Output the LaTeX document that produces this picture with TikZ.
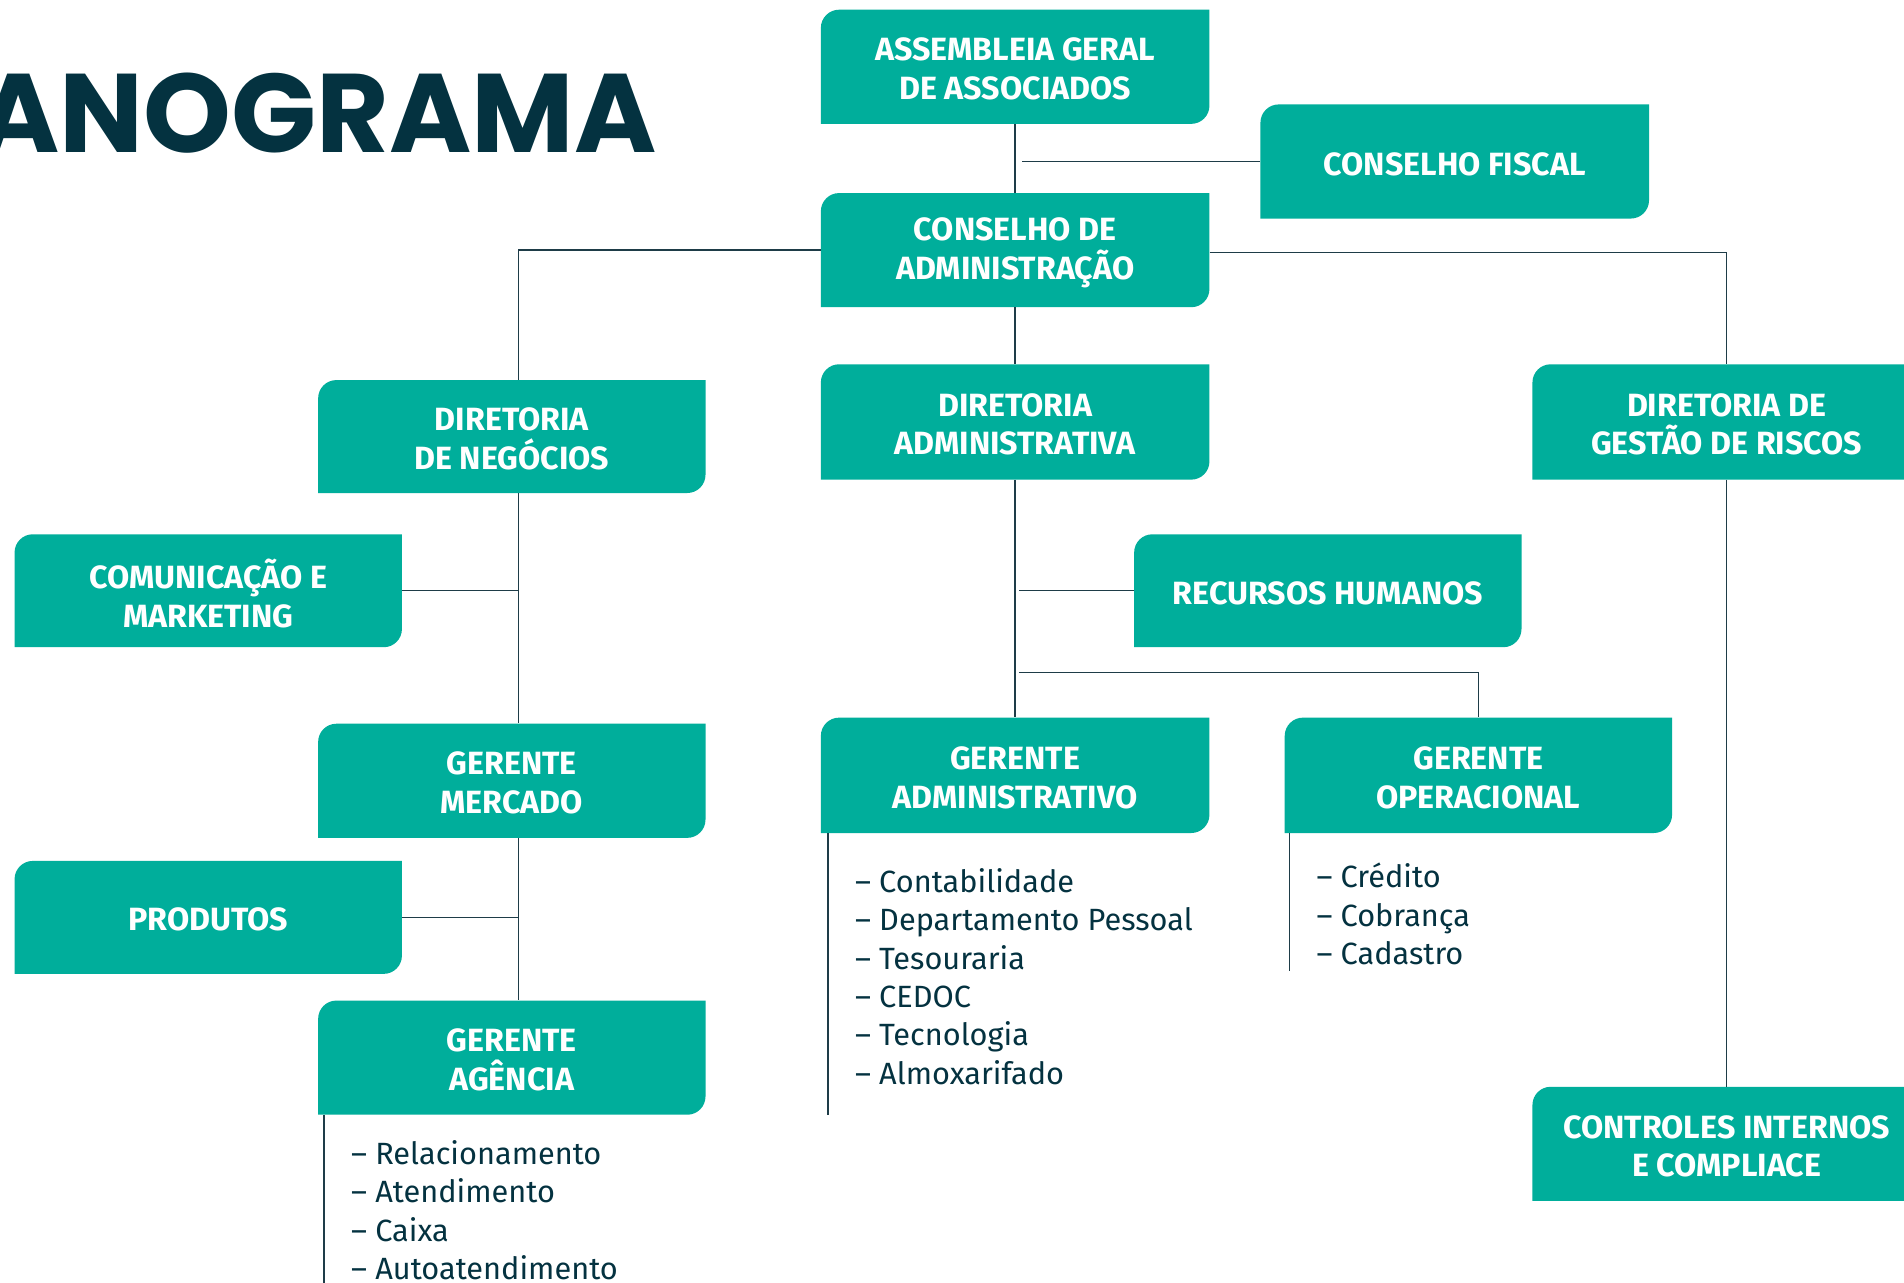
\documentclass[tikz,border=0pt]{standalone}
\usepackage{fontspec}
\setmainfont{Fira Sans}
\newfontfamily\titlefont{Poppins}
\usetikzlibrary{calc}
\definecolor{orgteal}{RGB}{0,174,155}
\definecolor{orgnavy}{RGB}{4,50,64}
\definecolor{orgline}{RGB}{30,60,72}
% \obox{name}{x1}{y1}{x2}{y2}{text}  (y measured downward)
\newcommand\obox[6]{%
  \fill[orgteal] (#2,-#5) -- (#2,{-#3-15}) arc[start angle=180,end angle=90,radius=15]
    -- (#4,-#3) -- (#4,{-#5+15}) arc[start angle=0,end angle=-90,radius=15] -- cycle;
  \node[boxshape, minimum width={#4-#2}, minimum height={#5-#3}] (#1) at ({(#2+#4)/2},{-(#3+#5)/2}) {};
  \node[boxtext] (#1-t) at ([yshift=-2]#1.center) {#6};}
\begin{document}
\begin{tikzpicture}[x=1pt,y=1pt,
  conn/.style={draw=orgline, line width=1.2pt},
  boxshape/.style={inner sep=0pt},
  boxtext/.style={text=white, font=\fontsize{26.5}{32}\selectfont\bfseries, align=center, inner sep=0pt},
  listtext/.style={text=orgnavy, font=\fontsize{25.3}{31.6}\selectfont, align=left, inner sep=0pt}]
\useasboundingbox[fill=white] (0,0) rectangle (1568,-1056);

\node[font=\titlefont\bfseries\fontsize{92}{92}\selectfont, text=orgnavy, anchor=base east, inner sep=0pt] (title) at (541,-126) {ANOGRAMA};

\obox{asm}{676}{8}{996}{102}{ASSEMBLEIA GERAL\\DE ASSOCIADOS}
\obox{cfis}{1038}{86}{1358}{180}{CONSELHO FISCAL}
\obox{cadm}{676}{159}{996}{253}{CONSELHO DE\\ADMINISTRAÇÃO}
\obox{dneg}{262}{313}{581}{406}{DIRETORIA\\DE NEGÓCIOS}
\obox{dadm}{676}{300}{996}{395}{DIRETORIA\\ADMINISTRATIVA}
\obox{drisk}{1262}{300}{1582}{395}{DIRETORIA DE\\GESTÃO DE RISCOS}
\obox{cmkt}{12}{440}{331}{533}{COMUNICAÇÃO E\\MARKETING}
\obox{rh}{934}{440}{1253}{533}{RECURSOS HUMANOS}
\obox{gmer}{262}{596}{581}{690}{GERENTE\\MERCADO}
\obox{gadm}{676}{591}{996}{686}{GERENTE\\ADMINISTRATIVO}
\obox{gop}{1058}{591}{1377}{686}{GERENTE\\OPERACIONAL}
\obox{prod}{12}{709}{331}{802}{PRODUTOS}
\obox{gag}{262}{824}{581}{918}{GERENTE\\AGÊNCIA}
\obox{cint}{1262}{895}{1582}{989}{CONTROLES INTERNOS\\E COMPLIACE}

% connectors
\draw[conn] (asm.south) -- (cadm.north);
\draw[conn] ([xshift=6]asm.south |- cfis.west) -- (cfis.west);
\draw[conn] (cadm.west) -| ([xshift=5.5]dneg.north);
\draw[conn] ([yshift=-2]cadm.east) -| (drisk.north);
\draw[conn] (cadm.south) -- (dadm.north);
\draw[conn] ([xshift=5.5]dneg.south) -- ([xshift=5.5]gmer.north);
\draw[conn] (cmkt.east) -- ([xshift=5.5]dneg.south |- cmkt.east);
\draw[conn] (dadm.south) -- (gadm.north);
\draw[conn] (rh.west) -- ([xshift=3]dadm.south |- rh.west);
\coordinate (opfork) at (839,-554);
\draw[conn] (opfork) -| (gop.north);
\draw[conn] (drisk.south) -- (cint.north);
\draw[conn] ([xshift=5.5]gmer.south) -- ([xshift=5.5]gag.north);
\draw[conn] (prod.east) -- ([xshift=5.5]gmer.south |- prod.east);

% list bars
\coordinate (gadmend) at (682,-918);
\draw[conn] (gadm.south west -| gadmend) -- (gadmend);
\coordinate (gopend) at (1062,-800);
\draw[conn] (gop.south west -| gopend) -- (gopend);
\coordinate (gagend) at (267,-1060);
\draw[conn] (gag.south west -| gagend) -- (gagend);

% lists (anchor = baseline of last line)
\node[listtext, anchor=base west] (ladm) at (704,-893) {– Contabilidade\\– Departamento Pessoal\\– Tesouraria\\– CEDOC\\– Tecnologia\\– Almoxarifado};
\node[listtext, anchor=base west] (lop) at (1084,-794.2) {– Crédito\\– Cobrança\\– Cadastro};
\node[listtext, anchor=base west] (lag) at (289,-1053.8) {– Relacionamento\\– Atendimento\\– Caixa\\– Autoatendimento};
\end{tikzpicture}
\end{document}
